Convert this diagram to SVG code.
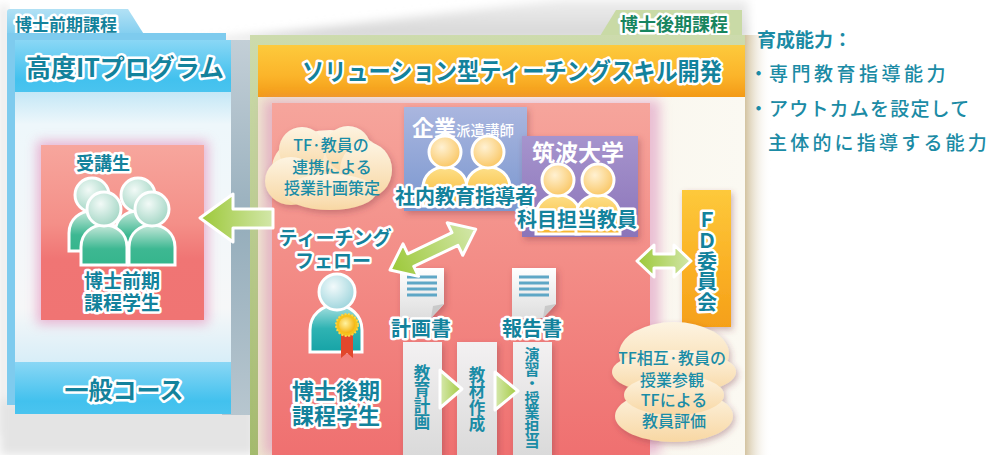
<svg xmlns="http://www.w3.org/2000/svg" xmlns:xlink="http://www.w3.org/1999/xlink" width="1006" height="455" viewBox="0 0 1006 455">
  <defs>
    <style>
      text { font-family: "Noto Sans CJK JP", "Noto Sans", sans-serif; }
      .lbl { fill: #13829c; stroke: #fff; stroke-width: 5; stroke-linejoin: round; paint-order: stroke; font-weight: 700; text-anchor: middle; }
      .wh { fill: #fff; font-weight: 700; }
      .cl { fill: #1a8ca6; font-weight: 500; text-anchor: middle; font-size: 16px; }
      .side { fill: #1b8ba5; font-size: 19px; font-weight: 500; }
      .step { fill: #1a8ca6; font-weight: 700; writing-mode: vertical-rl; text-orientation: upright; }
      .vlbl { writing-mode: vertical-rl; text-orientation: upright; text-anchor: start; }
      .arrow { stroke: #fff; stroke-width: 3; stroke-linejoin: round; }
      .person { stroke: #fff; stroke-width: 3; }
    </style>

    <!-- gradients -->
    <linearGradient id="gBlueHead" x1="0" y1="0" x2="0" y2="1">
      <stop offset="0" stop-color="#8ad7f5"/>
      <stop offset="0.75" stop-color="#42c1ee"/>
      <stop offset="1" stop-color="#4ac4ef"/>
    </linearGradient>
    <linearGradient id="gBlueTab" x1="0" y1="0" x2="0" y2="1">
      <stop offset="0" stop-color="#b2e1f5"/>
      <stop offset="1" stop-color="#7fcdef"/>
    </linearGradient>
    <linearGradient id="gLeftBody" x1="0" y1="0" x2="0" y2="1">
      <stop offset="0" stop-color="#c4e7f6"/>
      <stop offset="0.12" stop-color="#eef7fb"/>
      <stop offset="0.8" stop-color="#f6f7f8"/>
      <stop offset="1" stop-color="#d8eef8"/>
    </linearGradient>
    <linearGradient id="gPink" x1="0" y1="0" x2="0" y2="1">
      <stop offset="0" stop-color="#f7a69d"/>
      <stop offset="0.45" stop-color="#f48f88"/>
      <stop offset="0.65" stop-color="#f07574"/>
      <stop offset="1" stop-color="#f07473"/>
    </linearGradient>
    <linearGradient id="gPinkBig" x1="0" y1="0" x2="0" y2="1">
      <stop offset="0" stop-color="#f6a59c"/>
      <stop offset="0.45" stop-color="#f38d87"/>
      <stop offset="1" stop-color="#ef7070"/>
    </linearGradient>
    <linearGradient id="gOrange" x1="0" y1="0" x2="0" y2="1">
      <stop offset="0" stop-color="#fdca3c"/>
      <stop offset="0.6" stop-color="#fbb42a"/>
      <stop offset="1" stop-color="#f39a16"/>
    </linearGradient>
    <linearGradient id="gFD" x1="0" y1="0" x2="0" y2="1">
      <stop offset="0" stop-color="#fdc93b"/>
      <stop offset="0.6" stop-color="#faaf24"/>
      <stop offset="1" stop-color="#f5a019"/>
    </linearGradient>
    <linearGradient id="gGreenFrame" x1="0" y1="0" x2="0" y2="1">
      <stop offset="0" stop-color="#cddbad"/>
      <stop offset="1" stop-color="#a3bb6c"/>
    </linearGradient>
    <linearGradient id="gCream" x1="0" y1="0" x2="1" y2="0">
      <stop offset="0" stop-color="#efe6d0"/>
      <stop offset="0.5" stop-color="#f8f4ea"/>
      <stop offset="1" stop-color="#fbf9f2"/>
    </linearGradient>
    <linearGradient id="gBlueBox" x1="0" y1="0" x2="0" y2="1">
      <stop offset="0" stop-color="#aab6df"/>
      <stop offset="1" stop-color="#7a97cf"/>
    </linearGradient>
    <linearGradient id="gPurpleBox" x1="0" y1="0" x2="0" y2="1">
      <stop offset="0" stop-color="#a694cd"/>
      <stop offset="1" stop-color="#8b74b9"/>
    </linearGradient>
    <linearGradient id="gCloud" x1="0" y1="0" x2="0" y2="1">
      <stop offset="0" stop-color="#fdf4e2"/>
      <stop offset="1" stop-color="#f8d7a3"/>
    </linearGradient>
    <linearGradient id="gStep" x1="0" y1="0" x2="0" y2="1">
      <stop offset="0" stop-color="#f3f1f2"/>
      <stop offset="1" stop-color="#dadada"/>
    </linearGradient>
    <linearGradient id="gDoc" x1="0" y1="0" x2="0" y2="1">
      <stop offset="0" stop-color="#ffffff"/>
      <stop offset="1" stop-color="#dedede"/>
    </linearGradient>
    <linearGradient id="gArrowL" x1="0" y1="0" x2="1" y2="0">
      <stop offset="0" stop-color="#9cc838"/>
      <stop offset="1" stop-color="#d3e7aa"/>
    </linearGradient>
    <linearGradient id="gTri" x1="0" y1="0" x2="1" y2="0">
      <stop offset="0" stop-color="#d6e8ae"/>
      <stop offset="1" stop-color="#a2ca3e"/>
    </linearGradient>
    <linearGradient id="gSideCol" x1="0" y1="0" x2="0" y2="1">
      <stop offset="0" stop-color="#c3cfd7"/>
      <stop offset="0.5" stop-color="#96aebc"/>
      <stop offset="1" stop-color="#b7c6cf"/>
    </linearGradient>
    <linearGradient id="gTopGray" x1="0" y1="0" x2="0" y2="1">
      <stop offset="0" stop-color="#eeeeee"/>
      <stop offset="1" stop-color="#cfcfcf"/>
    </linearGradient>
    <linearGradient id="gRightShade" x1="0" y1="0" x2="1" y2="0">
      <stop offset="0" stop-color="#d3c3a0"/>
      <stop offset="1" stop-color="#ffffff" stop-opacity="0"/>
    </linearGradient>

    <!-- people fills -->
    <radialGradient id="gHeadGreen" cx="0.4" cy="0.35" r="0.7">
      <stop offset="0" stop-color="#f2faf7"/>
      <stop offset="1" stop-color="#9fd4c2"/>
    </radialGradient>
    <linearGradient id="gBodyGreen" x1="0" y1="0" x2="0" y2="1">
      <stop offset="0" stop-color="#c6e8da"/>
      <stop offset="0.6" stop-color="#3db892"/>
      <stop offset="1" stop-color="#35b58c"/>
    </linearGradient>
    <radialGradient id="gHeadYellow" cx="0.4" cy="0.35" r="0.7">
      <stop offset="0" stop-color="#fff1d2"/>
      <stop offset="1" stop-color="#f9c45e"/>
    </radialGradient>
    <linearGradient id="gBodyYellow" x1="0" y1="0" x2="0" y2="1">
      <stop offset="0" stop-color="#fde08a"/>
      <stop offset="1" stop-color="#f8b52e"/>
    </linearGradient>
    <radialGradient id="gHeadTeal" cx="0.4" cy="0.35" r="0.7">
      <stop offset="0" stop-color="#f2fafb"/>
      <stop offset="1" stop-color="#9ad3db"/>
    </radialGradient>
    <linearGradient id="gBodyTeal" x1="0" y1="0" x2="0" y2="1">
      <stop offset="0" stop-color="#a9e0e0"/>
      <stop offset="0.5" stop-color="#2fb3b3"/>
      <stop offset="1" stop-color="#16a3a6"/>
    </linearGradient>
    <radialGradient id="gBadge" cx="0.4" cy="0.4" r="0.6">
      <stop offset="0" stop-color="#fff3a0"/>
      <stop offset="1" stop-color="#f5b616"/>
    </radialGradient>

    <!-- filters -->
    <filter id="fBlur" x="-20%" y="-20%" width="140%" height="140%">
      <feGaussianBlur stdDeviation="5"/>
    </filter>
    <filter id="fGlow" x="-20%" y="-20%" width="140%" height="140%">
      <feGaussianBlur stdDeviation="6"/>
    </filter>
    <filter id="fShadow" x="-20%" y="-20%" width="140%" height="140%">
      <feDropShadow dx="2" dy="3" stdDeviation="3" flood-color="#7a3444" flood-opacity="0.35"/>
    </filter>

    <!-- reusable figures -->
    <g id="person-green" class="person">
      <path d="M-23,56 V38 C-23,24 -12,16 0,16 C12,16 23,24 23,38 V56 Z" fill="url(#gBodyGreen)"/>
      <circle cx="0" cy="0" r="17" fill="url(#gHeadGreen)"/>
    </g>
    <g id="person-yellow" class="person">
      <path d="M-22,54 V36 C-22,23 -12,15 0,15 C12,15 22,23 22,36 V54 Z" fill="url(#gBodyYellow)"/>
      <circle cx="0" cy="0" r="16" fill="url(#gHeadYellow)"/>
    </g>
    <g id="doc">
      <path d="M0,0 H44 V36 L31,50 H0 Z" fill="url(#gDoc)"/>
      <path d="M44,36 L31,50 L33,38 Z" fill="#c9c9c9"/>
      <g stroke="#5ea7c6" stroke-width="3">
        <line x1="7" y1="9" x2="37" y2="9"/>
        <line x1="7" y1="15" x2="37" y2="15"/>
        <line x1="7" y1="21" x2="37" y2="21"/>
        <line x1="7" y1="27" x2="37" y2="27"/>
      </g>
    </g>
  </defs>

  <!-- backdrop -->
  <g id="backdrop">
    <rect width="1006" height="455" fill="#ffffff"/>
    <polygon points="140,48 560,0 748,0 748,40 250,40" fill="url(#gTopGray)" filter="url(#fBlur)"/>
    <rect x="0" y="5" width="8" height="430" fill="#e6e6e6" filter="url(#fBlur)"/>
    <rect x="0" y="400" width="255" height="55" fill="#e4e4e4" filter="url(#fBlur)"/>
    <rect x="222" y="40" width="30" height="375" fill="url(#gSideCol)"/>
  </g>

  <!-- first-stage course panel -->
  <g id="early-course">
    <path d="M7,36 V12 Q7,9 10,9 H128 L145,36 Z" fill="url(#gBlueTab)"/>
    <text class="lbl" x="66" y="31" font-size="17" stroke-width="4">博士前期課程</text>
    <rect x="7" y="33" width="219" height="372" fill="#7ecbee"/>
    <rect x="15" y="92" width="216" height="270" fill="url(#gLeftBody)"/>
    <rect x="15" y="40" width="216" height="52" fill="url(#gBlueHead)"/>
    <text class="lbl" x="125" y="77" font-size="25">高度ITプログラム</text>
    <rect x="15" y="362" width="216" height="52" fill="url(#gBlueHead)"/>
    <text class="lbl" x="124" y="399" font-size="24">一般コース</text>
  </g>

  <!-- course participants -->
  <g id="participants">
    <rect x="37" y="141" width="171" height="183" fill="#e27bb0" opacity="0.55" filter="url(#fGlow)"/>
    <rect x="41" y="145" width="163" height="175" fill="url(#gPink)"/>
    <text class="lbl" x="103" y="170" font-size="18">受講生</text>
    <use xlink:href="#person-green" href="#person-green" x="92" y="195"/>
    <use xlink:href="#person-green" href="#person-green" x="138" y="195"/>
    <use xlink:href="#person-green" href="#person-green" x="104" y="209"/>
    <use xlink:href="#person-green" href="#person-green" x="152" y="209"/>
    <text class="lbl" font-size="19" stroke-width="4"><tspan x="122" y="288">博士前期</tspan><tspan x="122" y="310">課程学生</tspan></text>
  </g>

  <!-- second-stage course panel -->
  <g id="late-course">
    <polygon points="600,36 616,10 742,10 742,36" fill="#c9daa6"/>
    <text class="lbl" x="674" y="31" font-size="18" style="fill:#17855f" stroke-width="4">博士後期課程</text>
    <rect x="250" y="35" width="495" height="420" fill="url(#gGreenFrame)"/>
    <rect x="745" y="35" width="26" height="420" fill="url(#gRightShade)"/>
    <rect x="258" y="97" width="487" height="358" fill="url(#gCream)"/>
    <rect x="258" y="45" width="487" height="52" fill="url(#gOrange)"/>
    <text class="lbl" x="302" y="80" font-size="24" style="text-anchor:start" textLength="420" lengthAdjust="spacingAndGlyphs">ソリューション型ティーチングスキル開発</text>
  </g>

  <!-- teaching area -->
  <g id="teaching-area">
    <rect x="264" y="100" width="396" height="355" fill="#d985b8" opacity="0.5" filter="url(#fGlow)"/>
    <rect x="272" y="103" width="378" height="352" fill="url(#gPinkBig)"/>
  </g>

  <!-- joint planning bubble -->
  <g id="cloud-plan">
    <g fill="url(#gCloud)" filter="url(#fShadow)">
      <ellipse cx="330" cy="168" rx="58" ry="38"/>
      <circle cx="302" cy="150" r="23"/>
      <circle cx="348" cy="149" r="23"/>
      <ellipse cx="291" cy="181" rx="26" ry="24"/>
      <ellipse cx="366" cy="170" rx="26" ry="28"/>
      <ellipse cx="330" cy="192" rx="46" ry="18"/>
    </g>
    <text class="cl" x="331" y="151">TF·教員の</text>
    <text class="cl" x="332" y="173">連携による</text>
    <text class="cl" x="332" y="194">授業計画策定</text>
  </g>

  <!-- company instructors -->
  <g id="company-instructors">
    <rect x="404" y="107" width="123" height="104" fill="url(#gBlueBox)" filter="url(#fShadow)"/>
    <text class="wh" x="412" y="136" font-size="22">企業<tspan font-size="14.5" font-weight="500">派遣講師</tspan></text>
    <use xlink:href="#person-yellow" href="#person-yellow" x="445" y="152"/>
    <use xlink:href="#person-yellow" href="#person-yellow" x="488" y="152"/>
  </g>

  <!-- university faculty -->
  <g id="university-faculty">
    <rect x="522" y="136" width="116" height="101" fill="url(#gPurpleBox)" filter="url(#fShadow)"/>
    <text class="wh" x="578" y="161" font-size="23" text-anchor="middle">筑波大学</text>
    <use xlink:href="#person-yellow" href="#person-yellow" x="558" y="180"/>
    <use xlink:href="#person-yellow" href="#person-yellow" x="598" y="180"/>
    <text class="lbl" x="577" y="227" font-size="20">科目担当教員</text>
  </g>
  <text class="lbl" x="465" y="204" font-size="20">社内教育指導者</text>

  <!-- teaching fellow -->
  <g id="teaching-fellow">
    <text class="lbl" x="335" y="245" font-size="19">ティーチング</text>
    <text class="lbl" x="333" y="268" font-size="19">フェロー</text>
    <g class="person">
      <path d="M310,352 V330 C310,315 322,305 336,305 C350,305 362,315 362,330 V352 Z" fill="url(#gBodyTeal)"/>
      <circle cx="337" cy="292" r="18" fill="url(#gHeadTeal)"/>
    </g>
    <polygon points="341,329 353,329 353,358 347,353 341,358" fill="#e2472c"/>
    <circle cx="347" cy="325" r="11" fill="#f6c21c" stroke="#f9d44a" stroke-width="2" stroke-dasharray="2 1.5"/>
    <circle cx="347" cy="325" r="8" fill="url(#gBadge)"/>
    <text class="lbl" font-size="22"><tspan x="336" y="399">博士後期</tspan><tspan x="336" y="424">課程学生</tspan></text>
  </g>

  <!-- documents -->
  <g id="doc-plan" filter="url(#fShadow)">
    <use xlink:href="#doc" href="#doc" x="400" y="268"/>
  </g>
  <text class="lbl" x="421" y="336" font-size="20">計画書</text>
  <g id="doc-report" filter="url(#fShadow)">
    <use xlink:href="#doc" href="#doc" x="512" y="268"/>
  </g>
  <text class="lbl" x="532" y="336" font-size="20">報告書</text>

  <!-- process steps -->
  <g id="step-plan">
    <rect x="403" y="342" width="39" height="113" fill="url(#gStep)" filter="url(#fShadow)"/>
    <text class="step" x="422" y="364" font-size="16.5">教育計画</text>
  </g>
  <g id="step-material">
    <rect x="457" y="342" width="40" height="113" fill="url(#gStep)" filter="url(#fShadow)"/>
    <text class="step" x="477" y="366" font-size="16.5">教材作成</text>
  </g>
  <g id="step-teach">
    <rect x="513" y="342" width="39" height="113" fill="url(#gStep)" filter="url(#fShadow)"/>
    <text class="step" x="532" y="347" font-size="15" letter-spacing="-0.5">演習・授業担当</text>
  </g>

  <!-- faculty development committee -->
  <g id="fd-committee">
    <rect x="682" y="190" width="49" height="137" fill="url(#gFD)" filter="url(#fShadow)"/>
    <text class="lbl vlbl" x="707" y="210" font-size="20" stroke-width="4" letter-spacing="0.5">ＦＤ委員会</text>
  </g>

  <!-- peer observation bubble -->
  <g id="cloud-eval">
    <g fill="url(#gCloud)" filter="url(#fShadow)">
      <ellipse cx="674" cy="354" rx="55" ry="32"/>
      <ellipse cx="674" cy="372" rx="62" ry="22"/>
      <ellipse cx="674" cy="416" rx="59" ry="26"/>
      <ellipse cx="674" cy="395" rx="50" ry="20"/>
    </g>
    <text class="cl" x="672" y="364">TF相互·教員の</text>
    <text class="cl" x="672" y="386">授業参観</text>
    <text class="cl" x="674" y="406">TFによる</text>
    <text class="cl" x="674" y="427">教員評価</text>
  </g>

  <!-- connectors -->
  <g id="connectors">
    <polygon class="arrow" points="200,218 233,194 233,209 273,209 273,228 233,228 233,242" fill="url(#gArrowL)"/>
    <g transform="translate(390,270) rotate(-25.5)">
      <polygon class="arrow" points="0,0 23,-18 23,-7 72,-7 72,-18 95,0 72,18 72,7 23,7 23,18" fill="url(#gArrowL)"/>
    </g>
    <polygon class="arrow" points="637,261 654,245 654,254 674,254 674,245 691,261 674,277 674,268 654,268 654,277" fill="url(#gArrowL)"/>
    <polygon class="arrow" points="440,370 462,389 440,408" fill="url(#gTri)"/>
    <polygon class="arrow" points="495,372 518,391 495,410" fill="url(#gTri)"/>
  </g>

  <!-- target abilities -->
  <g id="abilities">
    <text class="side" x="757" y="47" style="font-weight:700">育成能力：</text>
    <text class="side" x="749" y="81">・<tspan x="769" letter-spacing="3.5">専門教育指導能力</tspan></text>
    <text class="side" x="749" y="116">・<tspan x="769" letter-spacing="1.2">アウトカムを設定して</tspan></text>
    <text class="side" x="768" y="150" letter-spacing="3.2">主体的に指導する能力</text>
  </g>
</svg>
